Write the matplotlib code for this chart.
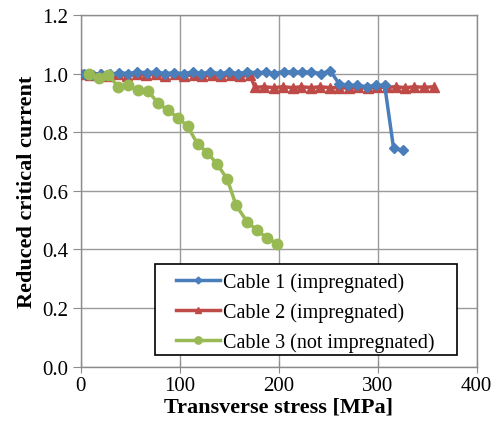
import matplotlib
matplotlib.use("Agg")
import matplotlib.pyplot as plt
from matplotlib.patches import Rectangle

# Cable 1 (impregnated)
stress_1 = [3, 12, 21, 30, 39, 48, 57, 67, 76, 85, 94, 104, 113, 122, 131, 141, 150, 159,
            168, 178, 187, 195, 205, 214, 224, 233, 243, 252, 261, 270, 279, 289, 298, 307,
            316, 326]
ic_1 = [1.0, 0.995, 1.0, 0.997, 1.003, 1.0, 1.005, 1.003, 1.005, 1.0, 1.003, 1.0, 1.005,
        1.0, 1.005, 1.0, 1.005, 1.0, 1.005, 1.003, 1.005, 1.0, 1.007, 1.005, 1.005, 1.005,
        1.0, 1.01, 0.965, 0.96, 0.96, 0.955, 0.96, 0.96, 0.745, 0.738]

# Cable 2 (impregnated)
stress_2 = [0, 9, 19, 28, 38, 47, 57, 66, 76, 85, 95, 104, 114, 123, 133, 142, 152, 161,
            171, 176, 185, 195, 204, 214, 223, 233, 242, 252, 261, 271, 280, 290, 299, 309,
            318, 328, 337, 347, 357]
ic_2 = [1.0, 0.995, 1.0, 0.993, 0.997, 0.993, 0.997, 0.995, 0.997, 0.993, 0.997, 0.993,
        0.995, 0.99, 0.995, 0.99, 0.995, 0.99, 0.995, 0.953, 0.955, 0.952, 0.955, 0.952,
        0.955, 0.952, 0.955, 0.952, 0.952, 0.95, 0.953, 0.95, 0.953, 0.953, 0.955, 0.952,
        0.955, 0.953, 0.955]

# Cable 3 (not impregnated)
stress_3 = [8, 18, 28, 38, 48, 58, 68, 78, 88, 98, 108, 118, 128, 138, 148, 157, 168, 178,
            188, 198]
ic_3 = [1.0, 0.985, 0.995, 0.955, 0.96, 0.945, 0.94, 0.90, 0.875, 0.85, 0.82, 0.76, 0.73,
        0.69, 0.64, 0.55, 0.495, 0.465, 0.44, 0.42]

labels = ["Cable 1 (impregnated)", "Cable 2 (impregnated)", "Cable 3 (not impregnated)"]

plt.rcParams['font.family'] = ['Liberation Serif', 'DejaVu Serif']

fig = plt.figure(figsize=(4.92, 4.31), dpi=100)
ax = fig.add_axes([0.164, 0.147, 0.805, 0.816])

ax.plot(stress_1, ic_1, color='#4a7ebb', lw=2.5, marker='D', ms=5, label=labels[0], zorder=4)
ax.plot(stress_2, ic_2, color='#be4b48', lw=2.5, marker='^', ms=6.5, label=labels[1], zorder=3)
ax.plot(stress_3, ic_3, color='#98b954', lw=2.5, marker='o', ms=7.5, label=labels[2], zorder=5)

ax.set_xlim(0, 400)
ax.set_ylim(0, 1.2)
ax.set_xticks([0, 100, 200, 300, 400])
ax.set_yticks([0.0, 0.2, 0.4, 0.6, 0.8, 1.0, 1.2])
ax.set_yticklabels(['0.0', '0.2', '0.4', '0.6', '0.8', '1.0', '1.2'])
ax.grid(True, color='#9a9a9a', lw=1.0)
ax.set_axisbelow(True)
for s in ax.spines.values():
    s.set_color('#8c8c8c')
    s.set_linewidth(1.0)
ax.tick_params(axis='y', direction='out', length=6, color='#8c8c8c', labelsize=15, pad=3)
ax.tick_params(axis='x', direction='inout', length=8, color='#8c8c8c', labelsize=15, pad=3)

ax.set_xlabel('Transverse stress [MPa]', fontsize=16, fontweight='bold', labelpad=1)
ax.set_ylabel('Reduced critical current', fontsize=16, fontweight='bold', labelpad=4)

# legend box drawn separately so the entries can sit indented like the original
box = Rectangle((0.188, 0.033), 0.763, 0.259, transform=ax.transAxes, facecolor='white',
                edgecolor='black', lw=1.2, zorder=6)
ax.add_patch(box)
leg = ax.legend(loc='center left', bbox_to_anchor=(0.241, 0.155), borderaxespad=0,
                borderpad=0, fontsize=14.5, frameon=False, handlelength=2.2,
                handletextpad=0.15, labelspacing=0.5, markerscale=0.7)
leg.set_zorder(7)

fig.savefig('out.png', dpi=100)
